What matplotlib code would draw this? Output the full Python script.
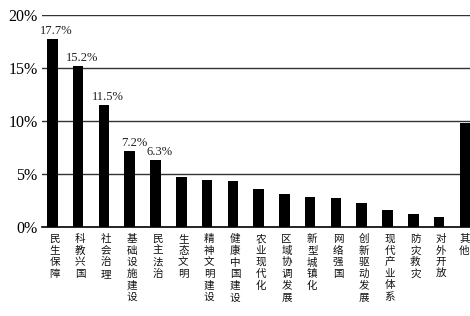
import matplotlib

matplotlib.use("Agg")
import matplotlib.pyplot as plt

plt.rcParams["font.family"] = ["Noto Sans CJK SC", "DejaVu Sans"]

CATEGORIES = [
    "民生保障", "科教兴国", "社会治理", "基础设施建设", "民主法治", "生态文明",
    "精神文明建设", "健康中国建设", "农业现代化", "区域协调发展", "新型城镇化",
    "网络强国", "创新驱动发展", "现代产业体系", "防灾救灾", "对外开放", "其他",
]
SHARES = [17.7, 15.2, 11.5, 7.2, 6.3, 4.75, 4.4, 4.3, 3.6, 3.1, 2.8, 2.7,
          2.3, 1.6, 1.25, 0.97, 9.8]
LABELLED = 5  # only the first five bars carry a value label
Y_TICKS = [0, 5, 10, 15, 20]

fig = plt.figure(figsize=(4.70, 3.16), dpi=100)
ax = fig.add_axes([0.089, 0.2816, 0.911, 0.671])

x = list(range(len(CATEGORIES)))
ax.bar(x, SHARES, width=0.41, color="black", zorder=3)

for i in range(LABELLED):
    ax.annotate(f"{SHARES[i]:.1f}%", (x[i], SHARES[i]), textcoords="offset points",
                xytext=(3, 1.5), ha="center", va="bottom", fontsize=9,
                family="Liberation Serif", color="#222222")

ax.set_ylim(0, 20)
ax.set_xlim(-0.41, 16.2)
ax.set_yticks(Y_TICKS)
ax.set_yticklabels([f"{v}%" for v in Y_TICKS], family="Liberation Serif", fontsize=11.5)
ax.tick_params(axis="y", length=0, pad=3)
ax.set_xticks([])

for v in Y_TICKS[1:]:
    ax.axhline(v, color="#333333", lw=1.0, zorder=1)

for s in ("left", "right", "top"):
    ax.spines[s].set_visible(False)
ax.spines["bottom"].set_linewidth(1.2)
ax.spines["bottom"].set_color("black")

for i, name in enumerate(CATEGORIES):
    last = i == len(CATEGORIES) - 1
    ax.annotate("\n".join(name), (x[i], 0), textcoords="offset points",
                xytext=(3.5 if last else 1.5, -5), ha="right" if last else "center",
                va="top", fontsize=7.6, linespacing=1.2, color="#111111",
                annotation_clip=False)

fig.savefig("out.png", dpi=100)
